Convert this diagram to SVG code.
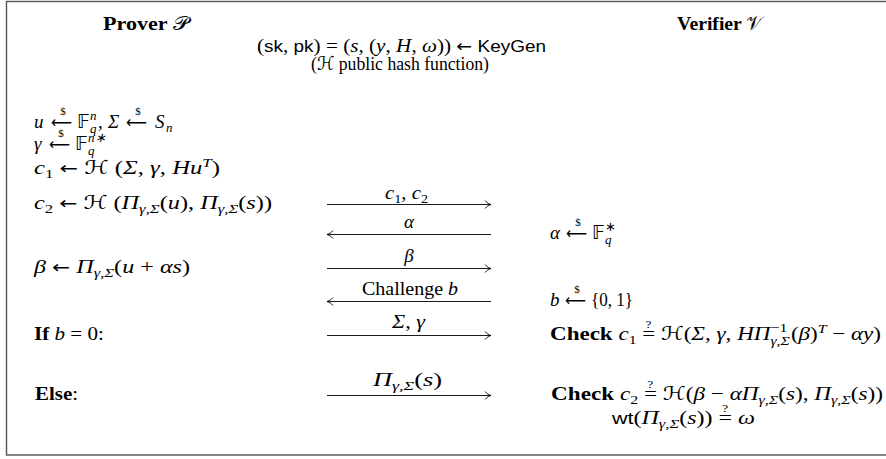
<svg xmlns="http://www.w3.org/2000/svg" width="886" height="459" viewBox="0 0 886 459">
<style>
.t{font-family:"Liberation Serif",serif;font-size:19px;fill:#000}
.i{font-style:italic}
.b{font-weight:bold}
.n{font-weight:normal}
.sf{font-family:"Liberation Sans",sans-serif;font-size:17px;font-style:normal}
.sm{font-size:13px}
.tiny{font-size:11px}
.ds{font-family:"DejaVu Sans",sans-serif;font-style:normal}
.ar{font-family:"DejaVu Sans",sans-serif;font-size:17px;font-style:normal}
.ln{stroke:#000;stroke-width:0.9;fill:none}
</style>
<defs>
<marker id="ah" markerUnits="userSpaceOnUse" markerWidth="10" markerHeight="10" viewBox="-7 -5 8 10" refX="0" refY="0" orient="auto">
<path d="M-6,-4 C-4,-1.5 -1.5,-0.5 0,0 C-1.5,0.5 -4,1.5 -6,4" stroke="#000" stroke-width="0.9" fill="none"/>
</marker>
</defs>
<rect x="6.5" y="1.5" width="890" height="453.5" fill="#fff" stroke="#555" stroke-width="1.4"/>

<g id="header">
<text class="t b" x="103" y="30" textLength="86" lengthAdjust="spacingAndGlyphs">Prover <tspan class="ds n">𝒫</tspan></text>
<text class="t b" x="677" y="30" textLength="86" lengthAdjust="spacingAndGlyphs">Verifier <tspan class="ds n">𝒱</tspan></text>
<text class="t" x="257" y="52" textLength="289" lengthAdjust="spacingAndGlyphs">(<tspan class="sf">sk</tspan>, <tspan class="sf">pk</tspan>) = (<tspan class="i">s</tspan>, (<tspan class="i">y</tspan>, <tspan class="i">H</tspan>, <tspan class="i">ω</tspan>)) <tspan class="ar">←</tspan> <tspan class="sf">KeyGen</tspan></text>
<text class="t" x="311" y="70" textLength="178" lengthAdjust="spacingAndGlyphs">(<tspan class="ds">ℋ</tspan> public hash function)</text>
</g>

<g id="prover">
<g id="p-line1">
<text class="t i" x="34" y="128">u</text>
<text class="ar" x="51" y="128" textLength="21" lengthAdjust="spacingAndGlyphs">⟵</text>
<text class="t tiny" x="63" y="115" text-anchor="middle">$</text>
<text class="t ds" x="77" y="128">𝔽</text>
<text class="t i sm" x="90" y="133">q</text>
<text class="t i sm" x="90" y="120">n</text>
<text class="t" x="98" y="128">,</text>
<text class="t i" x="108" y="128">Σ</text>
<text class="ar" x="126" y="128" textLength="21" lengthAdjust="spacingAndGlyphs">⟵</text>
<text class="t tiny" x="138" y="115" text-anchor="middle">$</text>
<text class="t i" x="155" y="128">S</text>
<text class="t i sm" x="166" y="132">n</text>
</g>
<g id="p-line2">
<text class="t i" x="34" y="150">γ</text>
<text class="ar" x="49" y="150" textLength="21" lengthAdjust="spacingAndGlyphs">⟵</text>
<text class="t tiny" x="61" y="137" text-anchor="middle">$</text>
<text class="t ds" x="75" y="150">𝔽</text>
<text class="t i sm" x="88" y="155">q</text>
<text class="t i sm" x="88" y="142">n∗</text>
</g>
<g id="p-line3">
<text class="t" x="34" y="174" textLength="186" lengthAdjust="spacingAndGlyphs"><tspan class="i">c</tspan><tspan class="sm" dy="4">1</tspan><tspan dy="-4"> </tspan><tspan class="ar">←</tspan> <tspan class="ds">ℋ</tspan> (<tspan class="i">Σ</tspan>, <tspan class="i">γ</tspan>, <tspan class="i">Hu</tspan><tspan class="sm i" dy="-7">T</tspan><tspan dy="7">)</tspan></text>
</g>
<g id="p-line4">
<text class="t" x="34" y="209" textLength="238" lengthAdjust="spacingAndGlyphs"><tspan class="i">c</tspan><tspan class="sm" dy="4">2</tspan><tspan dy="-4"> </tspan><tspan class="ar">←</tspan> <tspan class="ds">ℋ</tspan> (<tspan class="i">Π</tspan><tspan class="sm i" dy="4">γ,Σ</tspan><tspan dy="-4">(</tspan><tspan class="i">u</tspan>), <tspan class="i">Π</tspan><tspan class="sm i" dy="4">γ,Σ</tspan><tspan dy="-4">(</tspan><tspan class="i">s</tspan>))</text>
</g>
<g id="p-beta">
<text class="t" x="34" y="273" textLength="156" lengthAdjust="spacingAndGlyphs"><tspan class="i">β</tspan> <tspan class="ar">←</tspan> <tspan class="i">Π</tspan><tspan class="sm i" dy="4">γ,Σ</tspan><tspan dy="-4">(</tspan><tspan class="i">u</tspan> + <tspan class="i">αs</tspan>)</text>
</g>
<g id="p-if">
<text class="t" x="34" y="340" textLength="70" lengthAdjust="spacingAndGlyphs"><tspan class="b">If</tspan> <tspan class="i">b</tspan> = 0:</text>
</g>
<g id="p-else">
<text class="t b" x="35" y="400" textLength="43" lengthAdjust="spacingAndGlyphs">Else<tspan class="n">:</tspan></text>
</g>
</g>

<g id="connectors">
<line class="ln" x1="327" y1="204.5" x2="491" y2="204.5" marker-end="url(#ah)"/>
<line class="ln" x1="491" y1="234.5" x2="327" y2="234.5" marker-end="url(#ah)"/>
<line class="ln" x1="327" y1="268.5" x2="491" y2="268.5" marker-end="url(#ah)"/>
<line class="ln" x1="491" y1="301.5" x2="327" y2="301.5" marker-end="url(#ah)"/>
<line class="ln" x1="327" y1="335.5" x2="491" y2="335.5" marker-end="url(#ah)"/>
<line class="ln" x1="327" y1="395.5" x2="491" y2="395.5" marker-end="url(#ah)"/>
<g id="msg-labels">
<text class="t" x="385" y="199" textLength="43" lengthAdjust="spacingAndGlyphs"><tspan class="i">c</tspan><tspan class="sm" dy="4">1</tspan><tspan dy="-4">, </tspan><tspan class="i">c</tspan><tspan class="sm" dy="4">2</tspan></text>
<text class="t i" x="409" y="228" text-anchor="middle">α</text>
<text class="t i" x="409" y="262" text-anchor="middle">β</text>
<text class="t" x="362" y="295" textLength="96" lengthAdjust="spacingAndGlyphs">Challenge <tspan class="i">b</tspan></text>
<text class="t" x="392" y="328" textLength="33" lengthAdjust="spacingAndGlyphs"><tspan class="i">Σ</tspan>, <tspan class="i">γ</tspan></text>
<text class="t" x="373" y="386" textLength="69" lengthAdjust="spacingAndGlyphs"><tspan class="i">Π</tspan><tspan class="sm i" dy="4">γ,Σ</tspan><tspan dy="-4">(</tspan><tspan class="i">s</tspan>)</text>
</g>
</g>

<g id="verifier">
<g id="v-alpha">
<text class="t i" x="550" y="239">α</text>
<text class="ar" x="566" y="239" textLength="21" lengthAdjust="spacingAndGlyphs">⟵</text>
<text class="t tiny" x="578" y="226" text-anchor="middle">$</text>
<text class="t ds" x="592" y="239">𝔽</text>
<text class="t i sm" x="605" y="244">q</text>
<text class="t sm" x="605" y="231">∗</text>
</g>
<g id="v-b">
<text class="t i" x="550" y="306">b</text>
<text class="ar" x="565" y="306" textLength="21" lengthAdjust="spacingAndGlyphs">⟵</text>
<text class="t tiny" x="577" y="293" text-anchor="middle">$</text>
<text class="t" x="591" y="306" textLength="42" lengthAdjust="spacingAndGlyphs">{0, 1}</text>
</g>
<g id="v-check1">
<text class="t" x="550" y="340" textLength="331" lengthAdjust="spacingAndGlyphs"><tspan class="b">Check</tspan> <tspan class="i">c</tspan><tspan class="sm" dy="4">1</tspan><tspan dy="-4"> =</tspan><tspan class="tiny" dx="-8" dy="-12">?</tspan><tspan dx="3" dy="12"> </tspan><tspan class="ds">ℋ</tspan>(<tspan class="i">Σ</tspan>, <tspan class="i">γ</tspan>, <tspan class="i">HΠ</tspan><tspan class="sm i" dy="5">γ,Σ</tspan><tspan class="sm" dx="-16" dy="-13">−1</tspan><tspan dx="3" dy="8">(</tspan><tspan class="i">β</tspan>)<tspan class="sm i" dy="-7">T</tspan><tspan dy="7"> − </tspan><tspan class="i">αy</tspan>)</text>
</g>
<g id="v-check2">
<text class="t" x="551" y="400" textLength="332" lengthAdjust="spacingAndGlyphs"><tspan class="b">Check</tspan> <tspan class="i">c</tspan><tspan class="sm" dy="4">2</tspan><tspan dy="-4"> =</tspan><tspan class="tiny" dx="-8" dy="-12">?</tspan><tspan dx="3" dy="12"> </tspan><tspan class="ds">ℋ</tspan>(<tspan class="i">β</tspan> − <tspan class="i">αΠ</tspan><tspan class="sm i" dy="4">γ,Σ</tspan><tspan dy="-4">(</tspan><tspan class="i">s</tspan>), <tspan class="i">Π</tspan><tspan class="sm i" dy="4">γ,Σ</tspan><tspan dy="-4">(</tspan><tspan class="i">s</tspan>))</text>
</g>
<g id="v-wt">
<text class="t" x="612" y="424" textLength="143" lengthAdjust="spacingAndGlyphs"><tspan class="sf">wt</tspan>(<tspan class="i">Π</tspan><tspan class="sm i" dy="4">γ,Σ</tspan><tspan dy="-4">(</tspan><tspan class="i">s</tspan>)) =<tspan class="tiny" dx="-8" dy="-12">?</tspan><tspan dx="3" dy="12"> </tspan><tspan class="i">ω</tspan></text>
</g>
</g>
</svg>
